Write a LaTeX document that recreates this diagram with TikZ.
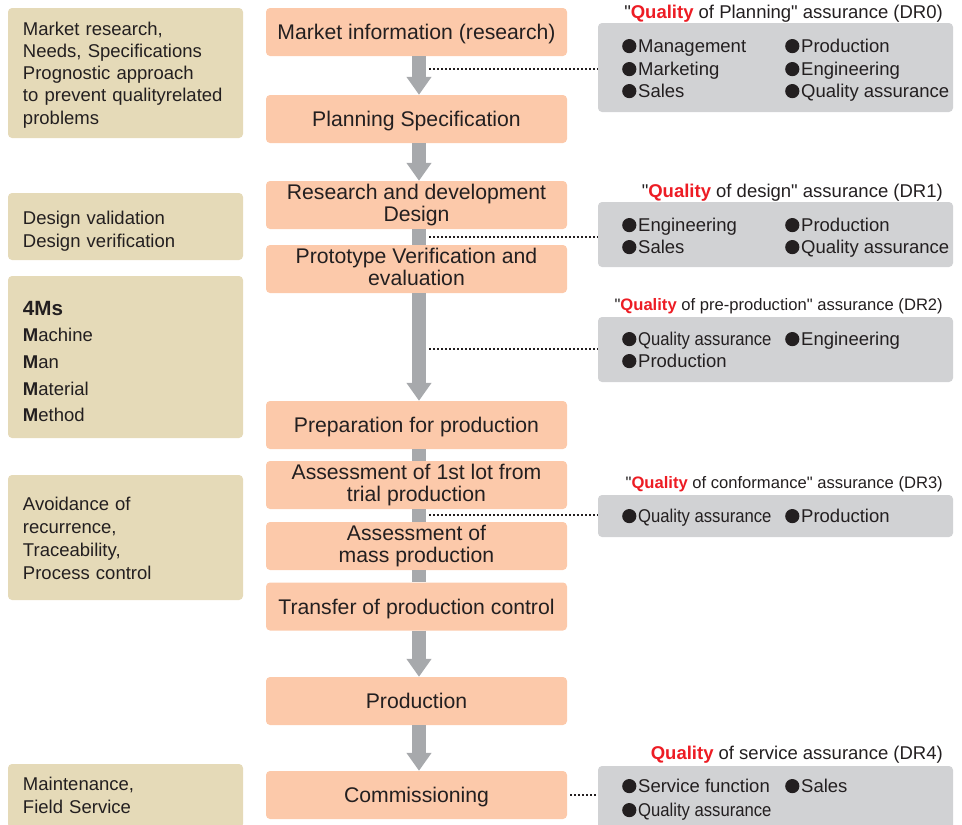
\documentclass[tikz,border=0pt]{standalone}
\usepackage{fontspec}
\usepackage{graphicx}
\setmainfont{Liberation Sans}
\usetikzlibrary{arrows.meta}
\definecolor{boxor}{HTML}{FCC9AA}
\definecolor{boxtan}{HTML}{E5DAB8}
\definecolor{boxgr}{HTML}{D1D2D4}
\definecolor{arrgr}{HTML}{A7A9AC}
\definecolor{qred}{HTML}{ED1C24}
\definecolor{txt}{HTML}{231F20}
\newcommand{\Qual}{\textcolor{qred}{\textbf{Quality}}}
\newcommand{\qq}{\textquotedbl}
\newcommand{\bul}{\tikz[baseline=0pt,x=1pt,y=1pt]\fill[txt] (7.1,5.9) circle (7.1);\hspace{1.8pt}}
\newcommand{\narrowqa}{\scalebox{0.9}[1]{Quality assurance}}
\begin{document}
\begin{tikzpicture}[x=1pt,y=-1pt,
 stepbox/.style={rectangle, rounded corners=4pt, fill=boxor, minimum width=301pt, minimum height=48pt, inner sep=0pt, align=center, text=txt, font=\fontsize{21.2}{21.5}\selectfont,
   execute at begin node={\rule{0pt}{20.5pt}}, execute at end node={\rule[-4.6pt]{0pt}{4.6pt}}},
 leftbox/.style 2 args={rectangle, rounded corners=4pt, fill=boxtan, minimum width=235pt, text width=205pt, inner xsep=15pt, inner ysep=0pt, align=left, text=txt, font=\fontsize{18.5}{#2}\selectfont,
   execute at begin node={\rule{0pt}{#1}}, execute at end node={\rule[-4.4pt]{0pt}{4.4pt}}},
 rightbox/.style={rectangle, rounded corners=4pt, fill=boxgr, minimum width=355pt, inner sep=0pt},
 item/.style={anchor=base west, inner sep=0pt, text=txt, font=\fontsize{18.5}{22}\selectfont},
 bigtitle/.style={anchor=base east, inner sep=0pt, text=txt, font=\fontsize{18.5}{22}\selectfont},
 smalltitle/.style={anchor=base east, inner sep=0pt, text=txt, font=\fontsize{16.6}{20}\selectfont},
 flow/.style={draw=arrgr, line width=14pt},
 flowarrow/.style={flow, -{Triangle[width=24pt,length=18pt]}},
 dots/.style={draw=txt, line width=1.8pt, dash pattern=on 1.8pt off 2.2pt},
]
\useasboundingbox (0,0) rectangle (962,825);

% centre flow boxes
\node[stepbox] (m1) at (416.5,32) {Market information (research)};
\node[stepbox] (m2) at (416.5,119) {Planning Specification};
\node[stepbox] (m3) at (416.5,205) {Research and development\\Design};
\node[stepbox] (m4) at (416.5,269) {Prototype Verification and\\evaluation};
\node[stepbox] (m5) at (416.5,425) {Preparation for production};
\node[stepbox] (m6) at (416.5,485) {Assessment of 1st lot from\\trial production};
\node[stepbox] (m7) at (416.5,546) {Assessment of\\mass production};
\node[stepbox] (m8) at (416.5,606.5) {Transfer of production control};
\node[stepbox] (m9) at (416.5,701) {Production};
\node[stepbox] (m10) at (416.5,795) {Commissioning};

% flow arrows
\draw[flowarrow] ([xshift=2.5pt]m1.south) -- ([xshift=2.5pt]m2.north);
\draw[flowarrow] ([xshift=2.5pt]m2.south) -- ([xshift=2.5pt]m3.north);
\draw[flow] ([xshift=2.5pt]m3.south) -- ([xshift=2.5pt]m4.north);
\draw[flowarrow] ([xshift=2.5pt]m4.south) -- ([xshift=2.5pt]m5.north);
\draw[flow] ([xshift=2.5pt]m5.south) -- ([xshift=2.5pt]m6.north);
\draw[flow] ([xshift=2.5pt]m6.south) -- ([xshift=2.5pt]m7.north);
\draw[flow] ([xshift=2.5pt]m7.south) -- ([xshift=2.5pt]m8.north);
\draw[flowarrow] ([xshift=2.5pt]m8.south) -- ([xshift=2.5pt]m9.north);
\draw[flowarrow] ([xshift=2.5pt]m9.south) -- ([xshift=2.5pt]m10.north);

% left boxes
\node[leftbox={17.6pt}{22.3pt}, minimum height=130pt] (l1) at (125.5,73) {Market research,\\Needs, Specifications\\Prognostic approach\\to prevent qualityrelated\\problems};
\node[leftbox={24.2pt}{23pt}, minimum height=67pt] (l2) at (125.5,226.5) {Design validation\\Design verification};
\node[leftbox={27.2pt}{26.7pt}, minimum height=162pt] (l3) at (125.5,357) {{\fontsize{20.6}{26.7}\selectfont\textbf{4Ms}}\\\textbf{M}achine\\\textbf{M}an\\\textbf{M}aterial\\\textbf{M}ethod};
\node[leftbox={19.6pt}{23pt}, minimum height=125pt] (l4) at (125.5,537.5) {Avoidance of\\recurrence,\\Traceability,\\Process control};
\node[leftbox={16.4pt}{23pt}, minimum height=64pt] (l5) at (125.5,796) {Maintenance,\\Field Service};

% right boxes
\node[rightbox, minimum height=89pt] (r0) at (775.5,67.5) {};
\node[rightbox, minimum height=65pt] (r1) at (775.5,234.5) {};
\node[rightbox, minimum height=65pt] (r2) at (775.5,349.5) {};
\node[rightbox, minimum height=42pt] (r3) at (775.5,516) {};
\node[rightbox, minimum height=64pt] (r4) at (775.5,798) {};

% titles
\node[bigtitle] (t0) at (943,18) {\qq\Qual{} of Planning\qq{} assurance (DR0)};
\node[bigtitle] (t1) at (943,197) {\qq\Qual{} of design\qq{} assurance (DR1)};
\node[smalltitle] (t2) at (943,310) {\qq\Qual{} of pre-production\qq{} assurance (DR2)};
\node[smalltitle] (t3) at (943,488) {\qq\Qual{} of conformance\qq{} assurance (DR3)};
\node[bigtitle] (t4) at (943,759) {\Qual{} of service assurance (DR4)};

% items
\node[item] (i01) at (622,52) {\bul Management};
\node[item] (i02) at (622,75) {\bul Marketing};
\node[item] (i03) at (622,97) {\bul Sales};
\node[item] (i04) at (785,52) {\bul Production};
\node[item] (i05) at (785,75) {\bul Engineering};
\node[item] (i06) at (785,97) {\bul Quality assurance};

\node[item] (i11) at (622,231) {\bul Engineering};
\node[item] (i12) at (622,253) {\bul Sales};
\node[item] (i13) at (785,231) {\bul Production};
\node[item] (i14) at (785,253) {\bul Quality assurance};

\node[item] (i21) at (622,345) {\bul\narrowqa};
\node[item] (i22) at (785,345) {\bul Engineering};
\node[item] (i23) at (622,367) {\bul Production};

\node[item] (i31) at (622,522) {\bul\narrowqa};
\node[item] (i32) at (785,522) {\bul Production};

\node[item] (i41) at (622,792) {\bul Service function};
\node[item] (i42) at (785,792) {\bul Sales};
\node[item] (i43) at (622,816) {\bul\narrowqa};

% dotted connectors
\coordinate (d0) at (429,69);
\coordinate (d1) at (429,237);
\coordinate (d2) at (429,349);
\coordinate (d3) at (429,515);
\draw[dots] (d0) -- (d0 -| r0.west);
\draw[dots] (d1) -- (d1 -| r1.west);
\draw[dots] (d2) -- (d2 -| r2.west);
\draw[dots] (d3) -- (d3 -| r3.west);
\draw[dots] ([xshift=3pt]m10.east) -- (m10.east -| r4.west);
\end{tikzpicture}
\end{document}
